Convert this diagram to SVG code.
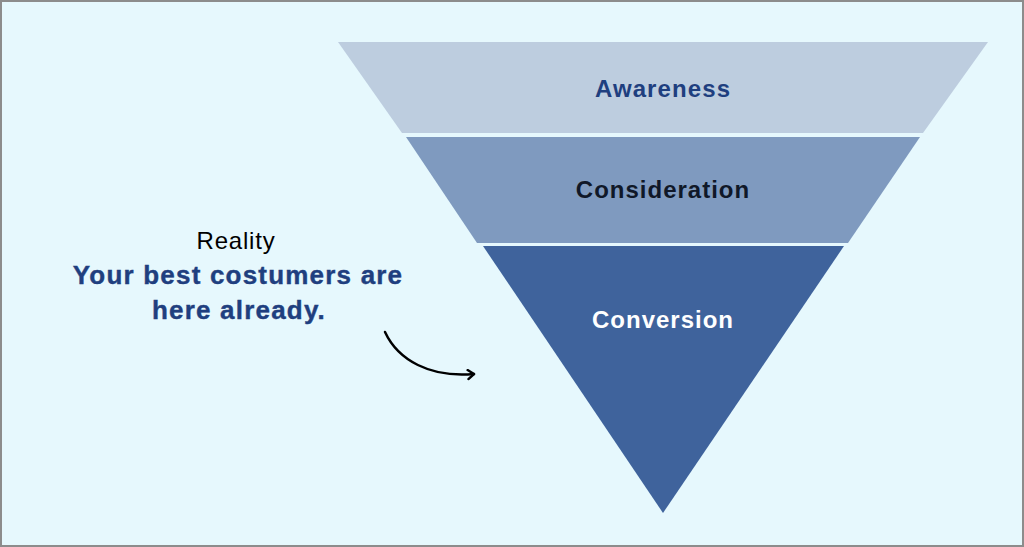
<svg xmlns="http://www.w3.org/2000/svg" width="1024" height="547" viewBox="0 0 1024 547">
<style>
.lbl{font-family:"Liberation Sans",Arial,sans-serif;font-weight:bold;font-size:24px;text-anchor:middle}
.note{font-family:"Liberation Sans",Arial,sans-serif;text-anchor:middle}
</style>
<defs>
<marker id="ah" markerWidth="12" markerHeight="12" refX="8" refY="6" orient="auto" markerUnits="userSpaceOnUse">
<path d="M2,1.5 L8,6 L2,10.5" fill="none" stroke="#000" stroke-width="2.4" stroke-linecap="round" stroke-linejoin="round"/>
</marker>
</defs>
<rect x="1" y="1" width="1022" height="545" fill="#E6F8FD" stroke="#8C8C8C" stroke-width="2"/>
<g id="awareness">
<polygon points="338,42 988,42 923,133 402,133" fill="#BDCDDF"/>
<text class="lbl" x="663" y="97" fill="#1F3F7F" letter-spacing="1.1">Awareness</text>
</g>
<g id="consideration">
<polygon points="406,137 920,137 848,243 477,243" fill="#7F9ABF"/>
<text class="lbl" x="663" y="198" fill="#101828" letter-spacing="1">Consideration</text>
</g>
<g id="conversion">
<polygon points="483,246 844,246 663,513" fill="#3F639C"/>
<text class="lbl" x="663" y="328" fill="#FFFFFF" letter-spacing="1">Conversion</text>
</g>
<g id="note">
<text class="note" x="236" y="249" font-size="24" fill="#000" letter-spacing="0.8">Reality</text>
<text class="note" x="238" y="284" font-size="26" font-weight="bold" fill="#1F3F7F" letter-spacing="1.2" stroke="#1F3F7F" stroke-width="0.4">Your best costumers are</text>
<text class="note" x="239" y="319" font-size="26" font-weight="bold" fill="#1F3F7F" letter-spacing="1.2" stroke="#1F3F7F" stroke-width="0.4">here already.</text>
</g>
<g id="connectors">
<path d="M385,332 C398,360 430,378 474,374" fill="none" stroke="#000" stroke-width="2.5" stroke-linecap="round" marker-end="url(#ah)"/>
</g>
</svg>
